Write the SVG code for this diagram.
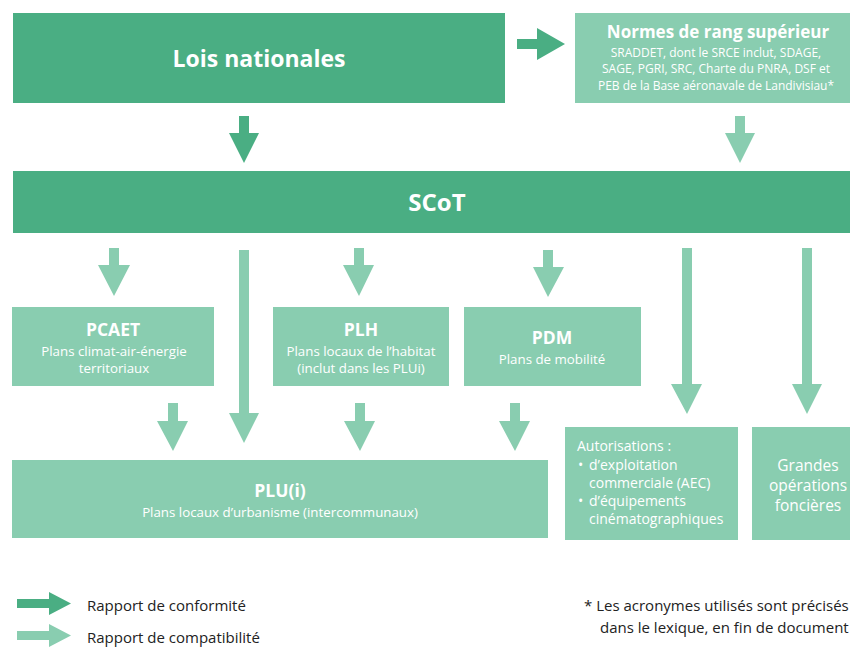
<svg xmlns="http://www.w3.org/2000/svg" width="850" height="647" viewBox="0 0 850 647">
<defs>
<style>
.dk{fill:#4aae83}
.lt{fill:#89cdb0}
text{font-family:"Open Sans",Lato,"Liberation Sans",sans-serif;fill:#ffffff}
.b{font-weight:bold}
.c{text-anchor:middle}
.t{font-size:17.5px;font-weight:bold;text-anchor:middle}
.s{font-size:13.3px;text-anchor:middle}
.n{font-size:12px;text-anchor:middle}
.lg{fill:#222222;font-size:15px}
</style>
</defs>
<rect width="850" height="647" fill="#ffffff"/>
<g id="lois"><rect class="dk" x="13" y="13" width="492" height="90"/><text class="b c" x="259" y="67" font-size="23">Lois nationales</text></g>
<g id="normes"><rect class="lt" x="575" y="13" width="275" height="90"/>
<text class="b c" x="718" y="38" font-size="17">Normes de rang supérieur</text>
<text class="n" x="716" y="56.5">SRADDET, dont le SRCE inclut, SDAGE,</text>
<text class="n" x="716" y="73">SAGE, PGRI, SRC, Charte du PNRA, DSF et</text>
<text class="n" x="716" y="89.5">PEB de la Base aéronavale de Landivisiau*</text></g>
<g id="scot"><rect class="dk" x="13" y="171" width="837" height="62"/><text class="b c" x="437" y="211" font-size="24">SCoT</text></g>
<g id="pcaet"><rect class="lt" x="12" y="307" width="202" height="79"/>
<text class="t" x="113" y="336">PCAET</text>
<text class="s" x="114" y="356">Plans climat-air-énergie</text>
<text class="s" x="114" y="373">territoriaux</text></g>
<g id="plh"><rect class="lt" x="273" y="307" width="176" height="79"/>
<text class="t" x="361" y="336">PLH</text>
<text class="s" x="361" y="356">Plans locaux de l’habitat</text>
<text class="s" x="361" y="373">(inclut dans les PLUi)</text></g>
<g id="pdm"><rect class="lt" x="464" y="307" width="177" height="79"/>
<text class="t" x="552" y="344">PDM</text>
<text class="s" x="552" y="364">Plans de mobilité</text></g>
<g id="plu"><rect class="lt" x="12" y="460" width="536" height="78"/>
<text class="t" x="280" y="497">PLU(i)</text>
<text class="s" x="280" y="517">Plans locaux d’urbanisme (intercommunaux)</text></g>
<g id="autorisations"><rect class="lt" x="565" y="427" width="173" height="113"/>
<text x="577" y="451" font-size="14">Autorisations :</text>
<text x="578" y="470" font-size="14">•</text>
<text x="589" y="470" font-size="14">d’exploitation</text>
<text x="589" y="488" font-size="14">commerciale (AEC)</text>
<text x="578" y="506" font-size="14">•</text>
<text x="589" y="506" font-size="14">d’équipements</text>
<text x="589" y="524" font-size="14">cinématographiques</text></g>
<g id="grandes"><rect class="lt" x="752" y="427" width="110" height="113"/>
<text class="c" x="808" y="471" font-size="15.5">Grandes</text>
<text class="c" x="808" y="491" font-size="15.5">opérations</text>
<text class="c" x="808" y="511" font-size="15.5">foncières</text></g>
<g id="connectors">
<path class="dk" d="M517 39H537V28L565 44L537 60V49H517Z"/>
<path class="dk" d="M239 116H249V133H259L244 163L229 133H239Z"/>
<path class="lt" d="M735 116H745V133H755L740 163L725 133H735Z"/>
<path class="lt" d="M109 248H119V265H130L114 296L98 265H109Z"/>
<path class="lt" d="M239 250H249V413H259L244 443L229 413H239Z"/>
<path class="lt" d="M354 248H364V265H374L359 296L343 265H354Z"/>
<path class="lt" d="M543 250H553V267H564L548 297L533 267H543Z"/>
<path class="lt" d="M682 248H692V384H702L687 414L671 384H682Z"/>
<path class="lt" d="M802 248H812V384H822L807 414L792 384H802Z"/>
<path class="lt" d="M168 403H178V421H188L173 451L157 421H168Z"/>
<path class="lt" d="M355 403H365V421H375L360 451L344 421H355Z"/>
<path class="lt" d="M510 403H520V421H530L515 451L499 421H510Z"/>
</g>
<g id="legend">
<path class="dk" d="M17 599H49V592L71 603.5L49 615V608H17Z"/>
<path class="lt" d="M17 631H49V624L71 635.5L49 647V640H17Z"/>
<text class="lg" x="87" y="611">Rapport de conformité</text>
<text class="lg" x="87" y="643">Rapport de compatibilité</text>
<text class="lg" x="584" y="611">* Les acronymes utilisés sont précisés</text>
<text class="lg" x="600" y="633">dans le lexique, en fin de document</text>
</g>
</svg>
